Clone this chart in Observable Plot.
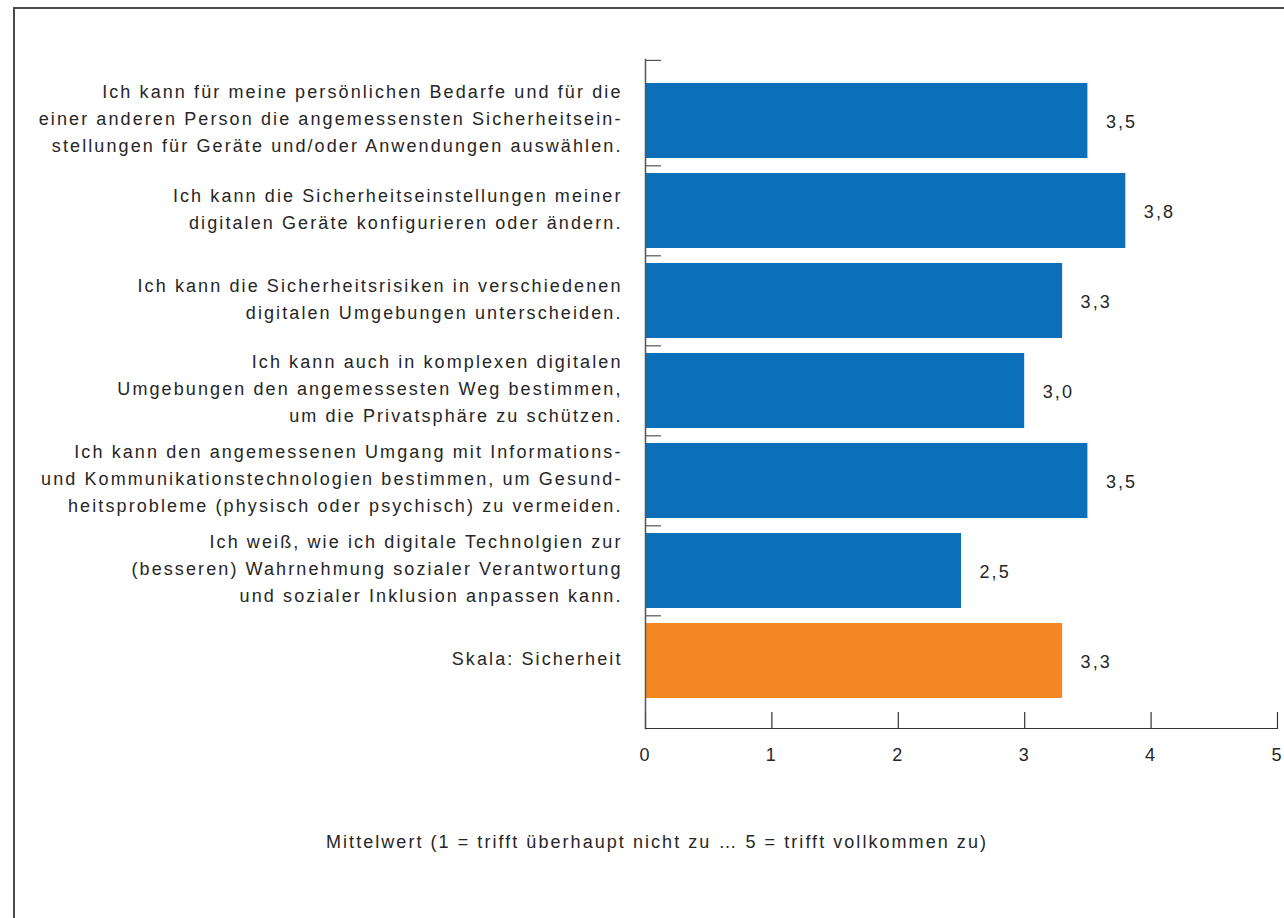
<!DOCTYPE html>
<html>
<head>
<meta charset="utf-8">
<script src="https://cdn.jsdelivr.net/npm/d3@7"></script>
<script src="https://cdn.jsdelivr.net/npm/@observablehq/plot@0.6"></script>
<style>
  html, body { margin: 0; padding: 0; background: #fff; }
  #wrap { position: relative; width: 1284px; height: 918px; overflow: hidden; font-family: "Liberation Sans", Arial, sans-serif; }
  #chart { position: absolute; left: 0; top: 0; }
  .border-left { position: absolute; left: 13px; top: 7px; width: 1.5px; height: 911px; background: #4a4a4a; }
  .border-top { position: absolute; left: 13px; top: 7px; width: 1271px; height: 1.5px; background: #4a4a4a; }
  #caption { position: absolute; left: 0; top: 832px; width: 1314px; text-align: center; font-size: 18px; letter-spacing: 2.05px; color: #262626; }
</style>
</head>
<body>
<div id="wrap">
  <div class="border-left"></div>
  <div class="border-top"></div>
  <div id="chart"></div>
  <div id="caption">Mittelwert (1 = trifft überhaupt nicht zu … 5 = trifft vollkommen zu)</div>
</div>
<script>
const categories = [
  "Ich kann für meine persönlichen Bedarfe und für die\neiner anderen Person die angemessensten Sicherheitsein-\nstellungen für Geräte und/oder Anwendungen auswählen.",
  "Ich kann die Sicherheitseinstellungen meiner\ndigitalen Geräte konfigurieren oder ändern.",
  "Ich kann die Sicherheitsrisiken in verschiedenen\ndigitalen Umgebungen unterscheiden.",
  "Ich kann auch in komplexen digitalen\nUmgebungen den angemessesten Weg bestimmen,\num die Privatsphäre zu schützen.",
  "Ich kann den angemessenen Umgang mit Informations-\nund Kommunikationstechnologien bestimmen, um Gesund-\nheitsprobleme (physisch oder psychisch) zu vermeiden.",
  "Ich weiß, wie ich digitale Technolgien zur\n(besseren) Wahrnehmung sozialer Verantwortung\nund sozialer Inklusion anpassen kann.",
  "Skala: Sicherheit"
];
const values = [3.5, 3.8, 3.3, 3.0, 3.5, 2.5, 3.3];
const groups = ["item", "item", "item", "item", "item", "item", "scale"];
const xTicks = [0, 1, 2, 3, 4, 5];

const data = categories.map((c, i) => ({label: c, value: values[i], group: groups[i], idx: i}));
const fmt = v => d3.format(".1f")(v).replace(".", ",");

const W = 1284, H = 918;
const mTop = 59, mBottom = H - 728, mLeft = 645, mRight = W - 1277;
const rangeTop = 74.5, rangeBottom = 706.5;
const step = (rangeBottom - rangeTop) / categories.length;
const frameH = H - mTop - mBottom;
const xPerUnit = (W - mLeft - mRight) / 5;

const plot = Plot.plot({
  width: W,
  height: H,
  marginTop: mTop,
  marginBottom: mBottom,
  marginLeft: mLeft,
  marginRight: mRight,
  style: {fontFamily: "Liberation Sans, Arial, sans-serif", fontSize: "18px", letterSpacing: "2.1px", color: "#262626", background: "transparent"},
  x: {domain: [0, 5], axis: null},
  y: {domain: categories, range: [rangeTop, rangeBottom], paddingInner: 0.166, paddingOuter: 0.083, axis: null},
  color: {domain: ["item", "scale"], range: ["#0b70b9", "#f58722"]},
  marks: [
    Plot.barX(data, {y: "label", x: "value", fill: "group"}),
    Plot.text(data, {y: "label", x: "value", text: d => fmt(d.value), dx: 18, dy: 1, textAnchor: "start", fill: "#262626", fontSize: 18}),
    Plot.text(data, {y: "label", frameAnchor: "left", text: "label", textAnchor: "end", dx: -23, dy: -4.5, lineHeight: 27/18, fill: "#262626", fontSize: 18}),
    // category boundary ticks
    Plot.ruleY(data.filter(d => d.idx > 0), {y: "label", x1: 0, x2: 16 / xPerUnit, dy: -step / 2, stroke: "#333", strokeWidth: 1}),
    Plot.ruleY(data.filter(d => d.idx === 0), {y: "label", x1: 0, x2: 16 / xPerUnit, dy: -(rangeTop + step / 2 - mTop), stroke: "#333", strokeWidth: 1}),
    // x ticks pointing up
    Plot.ruleX(xTicks, {x: d => d, insetTop: frameH - 16, stroke: "#333", strokeWidth: 1.2}),
    Plot.frame({anchor: "left", stroke: "#555", strokeWidth: 1.5}),
    Plot.frame({anchor: "bottom", stroke: "#333", strokeWidth: 1.2}),
    Plot.axisX(xTicks, {tickSize: 0, tickPadding: 20, fontSize: 18, label: null, tickFormat: d => String(d), fill: "#262626"})
  ]
});
document.getElementById("chart").appendChild(plot);
</script>
</body>
</html>
